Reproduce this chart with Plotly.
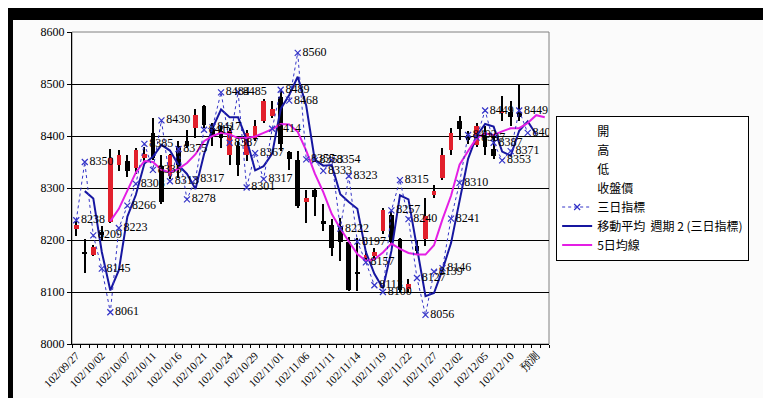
import plotly.graph_objects as go

# ---------------- data ----------------
dates = ["102/09/27", "102/09/30", "102/10/01", "102/10/02", "102/10/03", "102/10/04", "102/10/07", "102/10/08",
         "102/10/09", "102/10/11", "102/10/14", "102/10/15", "102/10/16", "102/10/17", "102/10/18", "102/10/21",
         "102/10/22", "102/10/23", "102/10/24", "102/10/25", "102/10/28", "102/10/29", "102/10/30", "102/10/31",
         "102/11/01", "102/11/04", "102/11/05", "102/11/06", "102/11/07", "102/11/08", "102/11/11", "102/11/12",
         "102/11/13", "102/11/14", "102/11/15", "102/11/18", "102/11/19", "102/11/20", "102/11/21", "102/11/22",
         "102/11/25", "102/11/26", "102/11/27", "102/11/28", "102/11/29", "102/12/02", "102/12/03", "102/12/04",
         "102/12/05", "102/12/06", "102/12/09", "102/12/10", "102/12/11", "102/12/12", "預測", ""]

open_ = [8222, 8176, 8172, 8215, 8234, 8345, 8352, 8338, 8358, 8406, 8342, 8323, 8380, 8390, 8415, 8457,
         8415, 8410, 8364, 8380, 8364, 8396, 8428, 8438, 8475, 8370, 8354, 8273, 8297, 8237, 8229, 8226,
         8197, 8137, 8165, 8170, 8217, 8249, 8201, 8106, 8188, 8201, 8287, 8319, 8374, 8428, 8402, 8383,
         8398, 8375, 8444, 8447, 8447]
high = [8236, 8201, 8191, 8227, 8375, 8374, 8364, 8377, 8378, 8435, 8364, 8366, 8390, 8412, 8451, 8460,
        8425, 8419, 8415, 8390, 8412, 8431, 8472, 8467, 8490, 8372, 8371, 8297, 8300, 8270, 8240, 8242,
        8206, 8204, 8178, 8185, 8262, 8255, 8204, 8125, 8200, 8281, 8306, 8377, 8415, 8438, 8410, 8425,
        8420, 8398, 8476, 8467, 8500]
low = [8208, 8137, 8169, 8198, 8232, 8332, 8322, 8326, 8350, 8354, 8270, 8318, 8320, 8377, 8396, 8415,
       8381, 8377, 8345, 8323, 8351, 8390, 8425, 8435, 8372, 8335, 8262, 8233, 8246, 8217, 8169, 8159,
       8102, 8101, 8160, 8162, 8212, 8190, 8098, 8100, 8173, 8188, 8281, 8316, 8364, 8393, 8384, 8378,
       8364, 8355, 8428, 8419, 8429]
close = [8229, 8174, 8186, 8210, 8358, 8364, 8333, 8374, 8366, 8358, 8274, 8364, 8345, 8380, 8441, 8422,
         8400, 8396, 8409, 8345, 8406, 8419, 8467, 8451, 8385, 8355, 8265, 8281, 8283, 8231, 8185, 8197,
         8104, 8135, 8172, 8177, 8258, 8197, 8104, 8115, 8179, 8246, 8295, 8364, 8406, 8413, 8393, 8419,
         8378, 8362, 8449, 8437, 8437]

# 三日指標
three_day = [8238, 8350, 8209, 8145, 8061, 8223, 8266, 8308, 8385, 8335, 8430, 8313, 8375, 8278, 8317, 8412,
             8417, 8484, 8387, 8485, 8301, 8367, 8317, 8414, 8489, 8468, 8560, 8355, 8353, 8333, 8354, 8222,
             8323, 8197, 8157, 8113, 8100, 8257, 8315, 8240, 8127, 8056, 8139, 8146, 8241, 8310, 8402, 8397,
             8449, 8387, 8353, 8371, 8449, 8406]

# 移動平均 週期 2 (三日指標)
ma2 = [None, 8294, 8280, 8177, 8103, 8142, 8245, 8287, 8347, 8360, 8383, 8372, 8344, 8327, 8298, 8365,
       8415, 8451, 8436, 8436, 8393, 8334, 8342, 8366, 8452, 8479, 8514, 8458, 8354, 8343, 8344, 8288,
       8273, 8260, 8177, 8135, 8107, 8179, 8286, 8278, 8184, 8092, 8098, 8143, 8194, 8276, 8356, 8400,
       8423, 8418, 8370, 8362, 8410, 8428, 8403]

# 5日均線
ma5 = [None, None, None, None, 8236, 8260, 8295, 8330, 8352, 8350, 8335, 8330, 8337, 8348, 8365, 8390,
       8400, 8406, 8403, 8396, 8396, 8399, 8406, 8413, 8423, 8422, 8408, 8372, 8328, 8292, 8250, 8222,
       8197, 8173, 8160, 8163, 8176, 8193, 8183, 8175, 8172, 8172, 8190, 8240, 8285, 8345, 8371, 8396,
       8405, 8402, 8409, 8415, 8415, 8425, 8440, 8436]

y_ticks = [8000, 8100, 8200, 8300, 8400, 8500, 8600]
label_every = 3

# ---------------- figure ----------------
RED = "#E2202C"
BLACK = "#000000"
BLUE_DOT = "#3434C8"
NAVY = "#1616A0"
MAGENTA = "#E41EE4"
SERIF = "Liberation Serif"

idx = list(range(len(dates)))
n_c = len(close)

up_x = [i for i in range(n_c) if close[i] >= open_[i]]
dn_x = [i for i in range(n_c) if close[i] < open_[i]]

fig = go.Figure()

# wicks (thin bars from low to high)
fig.add_trace(go.Bar(x=idx[:n_c], base=low, y=[h - l for h, l in zip(high, low)], width=0.13,
                     marker=dict(color=BLACK, line=dict(width=0)), showlegend=False, hoverinfo="skip"))
# bodies
fig.add_trace(go.Bar(x=up_x, base=[open_[i] for i in up_x], y=[max(close[i] - open_[i], 1.5) for i in up_x],
                     width=0.55, marker=dict(color=RED, line=dict(width=0)), showlegend=False, hoverinfo="skip"))
fig.add_trace(go.Bar(x=dn_x, base=[close[i] for i in dn_x], y=[max(open_[i] - close[i], 1.5) for i in dn_x],
                     width=0.55, marker=dict(color=BLACK, line=dict(width=0)), showlegend=False, hoverinfo="skip"))

# legend-only entries for the stock series
for k, nm in enumerate(["開", "高", "低", "收盤價"]):
    fig.add_trace(go.Scatter(x=[None], y=[None], mode="lines", name=nm, legendrank=k + 1,
                             line=dict(color="rgba(0,0,0,0)", width=1)))

fig.add_trace(go.Scatter(x=idx[:len(ma2)], y=ma2, mode="lines", name="移動平均  週期 2 (三日指標)",
                         legendrank=6, line=dict(color=NAVY, width=2), hoverinfo="skip"))
fig.add_trace(go.Scatter(x=idx[:len(ma5)], y=ma5, mode="lines", name="5日均線", legendrank=7,
                         line=dict(color=MAGENTA, width=2), hoverinfo="skip"))
fig.add_trace(go.Scatter(x=idx[:len(three_day)], y=three_day, mode="lines+markers+text", name="三日指標",
                         legendrank=5,
                         line=dict(color=BLUE_DOT, width=1, dash="dot"),
                         marker=dict(symbol="x-thin", size=6, line=dict(color=BLUE_DOT, width=1.2)),
                         text=[str(v) for v in three_day], textposition="middle right",
                         textfont=dict(family=SERIF, size=12, color=BLACK), hoverinfo="skip"))

tick_idx = idx[::label_every][:19]

fig.update_layout(
    width=771, height=398,
    margin=dict(l=64, r=230, t=24, b=62),
    paper_bgcolor="#000000",
    plot_bgcolor="#FFFFFF",
    barmode="overlay",
    bargap=0,
    showlegend=True,
    legend=dict(x=1.015, y=0.50, xanchor="left", yanchor="middle",
                bgcolor="#FFFFFF", bordercolor="#000000", borderwidth=1,
                font=dict(family="Noto Sans CJK TC", size=12, color=BLACK),
                traceorder="normal", tracegroupgap=0),
    xaxis=dict(range=[-0.5, len(dates) - 0.5], tickmode="array", tickvals=tick_idx,
               ticktext=[dates[i] for i in tick_idx], tickangle=-45, ticks="",
               tickfont=dict(family=SERIF, size=11, color=BLACK),
               showgrid=False, zeroline=False, showline=True, linecolor=BLACK, linewidth=1,
               minor=dict(tick0=-0.5, dtick=1, ticks="outside", ticklen=3, tickcolor=BLACK, showgrid=False)),
    yaxis=dict(range=[8000, 8600], tickmode="array", tickvals=y_ticks, ticktext=[str(v) for v in y_ticks],
               ticks="outside", ticklen=4, tickcolor=BLACK,
               tickfont=dict(family=SERIF, size=12, color=BLACK),
               showgrid=True, gridcolor=BLACK, gridwidth=1, zeroline=False,
               showline=True, linecolor=BLACK, linewidth=1),
    shapes=[
        dict(type="rect", xref="paper", yref="paper", x0=-0.1237, x1=1.4654, y0=-0.1763, y1=1.0385,
             fillcolor="#FBFBFB", line=dict(width=0), layer="below"),
        dict(type="rect", xref="paper", yref="paper", x0=0, x1=1, y0=0, y1=1,
             fillcolor="rgba(0,0,0,0)", line=dict(color="#808080", width=1), layer="below"),
    ],
)

fig.write_html("out.html")
